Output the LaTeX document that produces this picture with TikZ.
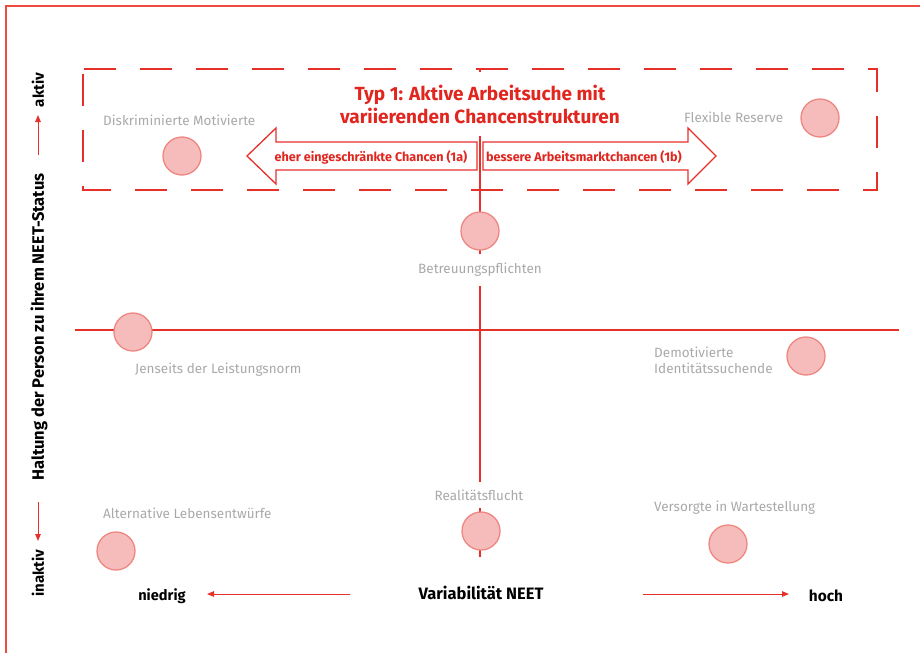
\documentclass[tikz,border=0pt]{standalone}
\usepackage{fontspec}
\setmainfont{Fira Sans}
\usetikzlibrary{arrows.meta}
\definecolor{axred}{HTML}{E8302A}
\definecolor{frred}{HTML}{EF4B44}
\definecolor{ttred}{HTML}{E0261F}
\definecolor{cfill}{HTML}{F5BCBB}
\definecolor{cline}{HTML}{EE8782}
\definecolor{lgray}{HTML}{A9A9A9}
\tikzset{
  dot/.style={circle, minimum size=38pt, inner sep=0pt, fill=cfill, draw=cline, line width=1.3pt},
  glabel/.style={text=lgray, font=\fontsize{13.5}{16}\selectfont, inner sep=1pt},
  blabel/.style={text=black, font=\bfseries\fontsize{16.5}{18}\selectfont, inner sep=1pt},
  axis/.style={draw=axred, line width=1.3pt},
  axarrow/.style={draw=axred, line width=1pt, -{Triangle[length=7pt,width=5.5pt]}},
  bigarrow/.style={draw=axred, fill=white, line width=1.3pt, line join=miter},
  arrtext/.style={text=ttred, font=\bfseries\fontsize{12.6}{14}\selectfont, inner sep=0pt},
}
\begin{document}
\begin{tikzpicture}[x=1pt,y=-1pt]
\useasboundingbox (0,0) rectangle (920,653);
% outer frame (only top and left visible)
\draw[frred, line width=1.4pt] (6,653) -- (6,6) -- (920,6);
% axes
\draw[axis] (480,69) -- (480,557);
\draw[axis] (75,330) -- (899,330);
% dashed box
\draw[axred, line width=2.6pt, dash pattern=on 32pt off 24pt, dash phase=-1pt] (83,69) -- (877,69) -- (877,190) -- (83,190) -- cycle;
% title
\node[fill=white, text=ttred, font=\bfseries\fontsize{19}{23}\selectfont, align=center, inner xsep=4pt, minimum height=64pt] (title) at (480,104) {Typ 1: Aktive Arbeitsuche mit\\variierenden Chancenstrukturen};
% big arrows
\draw[bigarrow] (247,156) -- (276,128) -- (276,142) -- (477,142) -- (477,170) -- (276,170) -- (276,184) -- cycle;
\draw[bigarrow] (716,156) -- (688,128) -- (688,142) -- (483,142) -- (483,170) -- (688,170) -- (688,184) -- cycle;
\node[arrtext] (a1) at (371,157) {eher eingeschränkte Chancen (1a)};
\node[arrtext] (a2) at (584,157) {bessere Arbeitsmarktchancen (1b)};
% dots
\node[dot] (d1) at (182,156) {};
\node[dot] (d2) at (820,118) {};
\node[dot] (d3) at (480,231) {};
\node[dot] (d4) at (133,332) {};
\node[dot] (d5) at (806,356) {};
\node[dot] (d6) at (116,551) {};
\node[dot] (d7) at (481,531) {};
\node[dot] (d8) at (728,544) {};
% labels
\node[glabel, anchor=west] (l1) at (102,120) {Diskriminierte Motivierte};
\node[glabel, anchor=west] (l2) at (683,117) {Flexible Reserve};
\node[glabel, fill=white, inner ysep=9pt] (l3) at (480,270) {Betreuungspflichten};
\node[glabel, anchor=west] (l4) at (134,370) {Jenseits der Leistungsnorm};
\node[glabel, anchor=west, align=left, font=\fontsize{13.5}{16}\selectfont] (l5) at (653,360) {Demotivierte\\Identitätssuchende};
\node[glabel, anchor=west] (l6) at (102,513) {Alternative Lebensentwürfe};
\node[glabel, fill=white, inner ysep=8pt] (l7) at (479,495) {Realitätsflucht};
\node[glabel, anchor=west] (l8) at (653,508) {Versorgte in Wartestellung};
% bottom axis labels
\node[blabel] (xl) at (481,593) {Variabilität NEET};
\node[blabel, font=\bfseries\fontsize{14.6}{16}\selectfont] (lo) at (162,596) {niedrig};
\node[blabel, font=\bfseries\fontsize{15.4}{16}\selectfont] (hi) at (826,596) {hoch};
\coordinate (xla) at (350,594);
\coordinate (xlb) at (207,594);
\coordinate (xra) at (643,594);
\coordinate (xrb) at (789,594);
\draw[axarrow] (xla) -- (xlb);
\draw[axarrow] (xra) -- (xrb);
% left axis labels
\node[blabel, rotate=90] (yl) at (39,327) {Haltung der Person zu ihrem NEET-Status};
\node[blabel, rotate=90, font=\bfseries\fontsize{15}{16}\selectfont] (act) at (38,90) {aktiv};
\node[blabel, rotate=90, font=\bfseries\fontsize{15}{16}\selectfont] (inact) at (38,573) {inaktiv};
\coordinate (yua) at (38,155);
\coordinate (yub) at (38,115);
\coordinate (yda) at (38,502);
\coordinate (ydb) at (38,541);
\draw[axarrow] (yua) -- (yub);
\draw[axarrow] (yda) -- (ydb);
\end{tikzpicture}
\end{document}
